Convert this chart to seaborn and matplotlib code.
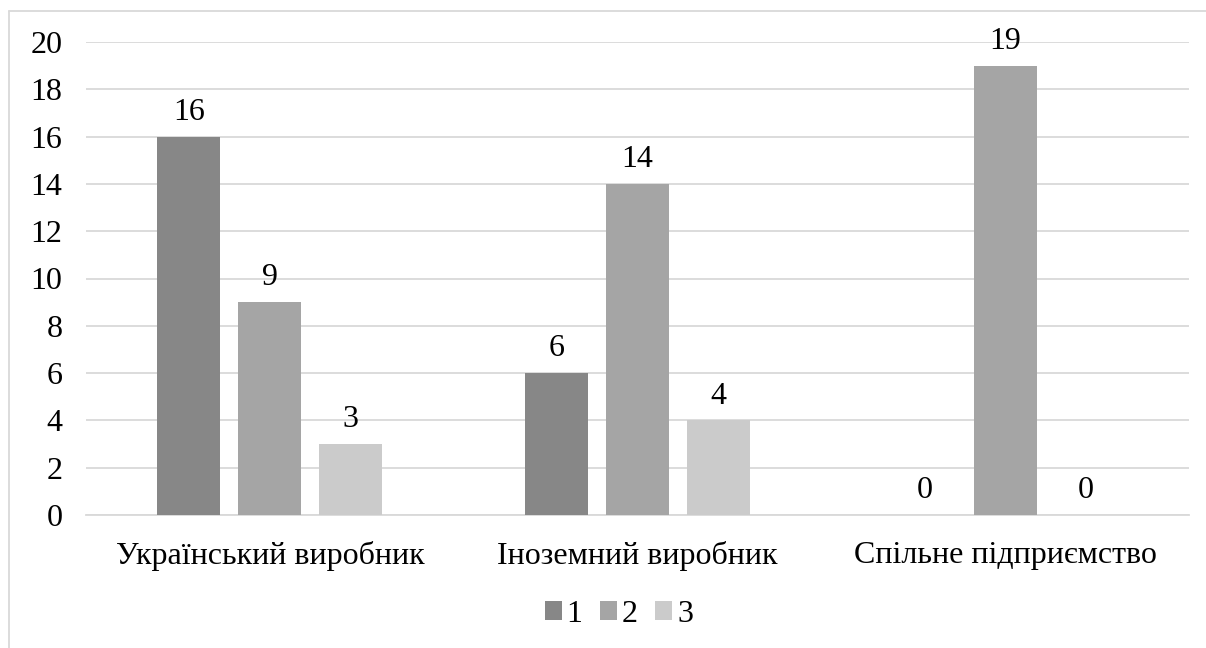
import matplotlib
matplotlib.use("Agg")
import matplotlib.pyplot as plt
import seaborn as sns
import pandas as pd
from matplotlib.lines import Line2D

categories = ["Український виробник", "Іноземний виробник", "Спільне підприємство"]
series_names = ["1", "2", "3"]
s1 = [16, 6, 0]
s2 = [9, 14, 19]
s3 = [3, 4, 0]
yticks = [0, 2, 4, 6, 8, 10, 12, 14, 16, 18, 20]
colors = ["#878787", "#a5a5a5", "#cbcbcb"]

rows = []
for name, vals in zip(series_names, [s1, s2, s3]):
    for c, v in zip(categories, vals):
        rows.append({"cat": c, "series": name, "value": v})
df = pd.DataFrame(rows)

sns.set_theme(style="white")
plt.rcParams["font.family"] = ["Liberation Serif", "DejaVu Serif"]
plt.rcParams["text.color"] = "black"
plt.rcParams["xtick.color"] = "black"
plt.rcParams["ytick.color"] = "black"

FS = 23
fig = plt.figure(figsize=(12.06, 6.48), dpi=100)
ax = fig.add_axes([86/1206, 1 - 515/648, (1189-86)/1206, (515-42)/648])

sns.barplot(data=df, x="cat", y="value", hue="series", palette=colors,
            width=0.66, gap=0.22, ax=ax, saturation=1, legend=True, zorder=3,
            linewidth=0, edgecolor="none")

ax.set_ylim(0, 20)
ax.set_xlim(-0.5, 2.5)
ax.set_yticks(yticks)
ax.set_yticklabels([str(t) for t in yticks], fontsize=FS)
ax.tick_params(axis="x", labelsize=FS, pad=19, length=0, colors="black")
ax.tick_params(axis="y", pad=17, length=0, colors="black")
ax.set_xlabel("")
ax.set_ylabel("")
ax.grid(axis="y", color="#d9d9d9", linewidth=1.3, zorder=0)
for s in ["top", "right", "left"]:
    ax.spines[s].set_visible(False)
ax.spines["bottom"].set_color("#d9d9d9")
ax.spines["bottom"].set_linewidth(1.3)

for cont in ax.containers:
    ax.bar_label(cont, fmt="%g", fontsize=FS, padding=7, color="black")

ax.legend(loc="center", bbox_to_anchor=(619/1206, 1 - 614/648), bbox_transform=fig.transFigure,
          ncol=3, frameon=False, fontsize=FS, handlelength=0.53, handleheight=0.53,
          handletextpad=0.15, columnspacing=0.55)

fig.add_artist(Line2D([9/1206, 9/1206], [0, 1 - 11/648], transform=fig.transFigure,
                      color="#d9d9d9", linewidth=1.3))
fig.add_artist(Line2D([9/1206, 1], [1 - 11/648, 1 - 11/648], transform=fig.transFigure,
                      color="#d9d9d9", linewidth=1.3))
fig.savefig("out.png", dpi=100, facecolor="white")
